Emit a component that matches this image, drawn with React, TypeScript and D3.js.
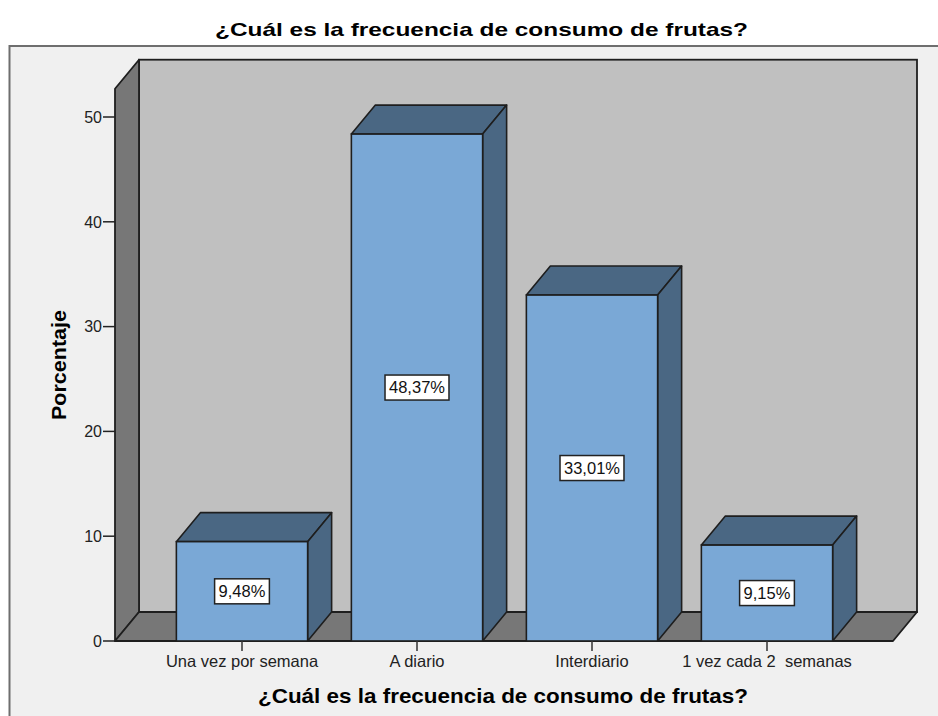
import React from 'react';
import * as d3 from 'd3';

const categories = ['Una vez por semana', 'A diario', 'Interdiario', '1 vez cada 2  semanas'];
const percentages = [9.48, 48.37, 33.01, 9.15];
const valueLabels = ['9,48%', '48,37%', '33,01%', '9,15%'];
const yTicks = [0, 10, 20, 30, 40, 50];
const chartTitle = '¿Cuál es la frecuencia de consumo de frutas?';
const xTitle = '¿Cuál es la frecuencia de consumo de frutas?';
const yTitle = 'Porcentaje';

const FONT = '"Liberation Sans", Arial, Helvetica, sans-serif';

function approxWidth(s: string, size: number) {
  let w = 0;
  for (const c of s) {
    if (c === ',' || c === '.') w += 0.278;
    else if (c === '%') w += 0.889;
    else w += 0.556;
  }
  return w * size;
}

export default function App() {
  const W = 938;
  const H = 716;
  const dx = 24;
  const dy = 29;
  const floorX0 = 115;
  const floorX1 = 893;
  const y = d3.scaleLinear().domain([0, 50]).range([641, 117]);
  const yWallTop = y(52.7);
  const y0 = y(0);
  const x = d3
    .scaleBand<string>()
    .domain(categories)
    .range([154.5, 854.5])
    .paddingInner(0.25)
    .paddingOuter(0.125);
  const bw = x.bandwidth();
  const edge = '#1e1e1e';
  const frontFill = '#7aa8d6';
  const darkFill = '#4a6783';
  const wallFill = '#777777';
  const backFill = '#c0c0c0';
  const pts = (arr: number[][]) => arr.map((p) => p.join(',')).join(' ');
  const labelSize = 16.5;

  return (
    <svg
      width={W}
      height={H}
      style={{ position: 'absolute', left: 0, top: 0, background: '#ffffff' }}
      fontFamily={FONT}
    >
      <rect x={9.5} y={46} width={W + 20} height={H + 20} fill="#f0f0f0" stroke="#6e6e6e" strokeWidth={2} />
      <text x={215} y={36} fontSize={19} fontWeight="bold" fill="#000" textLength={533} lengthAdjust="spacingAndGlyphs">
        {chartTitle}
      </text>

      {/* back wall */}
      <rect
        x={floorX0 + dx}
        y={yWallTop - dy}
        width={floorX1 - floorX0}
        height={y0 - yWallTop}
        fill={backFill}
        stroke={edge}
        strokeWidth={1.8}
      />
      {/* left wall */}
      <polygon
        points={pts([
          [floorX0, y0],
          [floorX0, yWallTop],
          [floorX0 + dx, yWallTop - dy],
          [floorX0 + dx, y0 - dy],
        ])}
        fill={wallFill}
        stroke={edge}
        strokeWidth={1.8}
        strokeLinejoin="round"
      />
      {/* floor */}
      <polygon
        points={pts([
          [floorX0, y0],
          [floorX0 + dx, y0 - dy],
          [floorX1 + dx, y0 - dy],
          [floorX1, y0],
        ])}
        fill={wallFill}
        stroke={edge}
        strokeWidth={1.8}
        strokeLinejoin="round"
      />

      {/* y axis ticks */}
      {yTicks.map((t) => (
        <g key={t}>
          <line x1={103} x2={floorX0} y1={y(t)} y2={y(t)} stroke="#222" strokeWidth={1.5} />
          <text x={102} y={y(t)} dy="0.36em" textAnchor="end" fontSize={16} fill="#222">
            {t}
          </text>
        </g>
      ))}

      {/* bars */}
      {categories.map((c, i) => {
        const xl = x(c)!;
        const xr = xl + bw;
        const yt = y(percentages[i]);
        const cx = xl + bw / 2;
        const cy = (yt + y0) / 2;
        const tw = approxWidth(valueLabels[i], labelSize);
        return (
          <g key={c}>
            <polygon
              points={pts([
                [xl, yt],
                [xl + dx, yt - dy],
                [xr + dx, yt - dy],
                [xr, yt],
              ])}
              fill={darkFill}
              stroke={edge}
              strokeWidth={1.6}
              strokeLinejoin="round"
            />
            <polygon
              points={pts([
                [xr, yt],
                [xr + dx, yt - dy],
                [xr + dx, y0 - dy],
                [xr, y0],
              ])}
              fill={darkFill}
              stroke={edge}
              strokeWidth={1.6}
              strokeLinejoin="round"
            />
            <rect x={xl} y={yt} width={bw} height={y0 - yt} fill={frontFill} stroke={edge} strokeWidth={1.6} />
            <rect
              x={cx - tw / 2 - 4}
              y={cy - 12.5}
              width={tw + 8}
              height={25}
              fill="#ffffff"
              stroke="#222"
              strokeWidth={1.5}
            />
            <text x={cx} y={cy} dy="0.36em" textAnchor="middle" fontSize={labelSize} fill="#111">
              {valueLabels[i]}
            </text>
            <line x1={cx} x2={cx} y1={y0} y2={y0 + 10} stroke="#333" strokeWidth={1.5} />
            <text
              x={cx}
              y={667}
              textAnchor="middle"
              fontSize={16.5}
              fill="#222"
              style={{ whiteSpace: 'pre' }}
            >
              {c}
            </text>
          </g>
        );
      })}

      <text x={258} y={703} fontSize={21} fontWeight="bold" fill="#000" textLength={490} lengthAdjust="spacingAndGlyphs">
        {xTitle}
      </text>
      <text
        transform="translate(66,365) rotate(-90)"
        textAnchor="middle"
        fontSize={20}
        fontWeight="bold"
        fill="#000"
        textLength={110}
        lengthAdjust="spacingAndGlyphs"
      >
        {yTitle}
      </text>
    </svg>
  );
}
